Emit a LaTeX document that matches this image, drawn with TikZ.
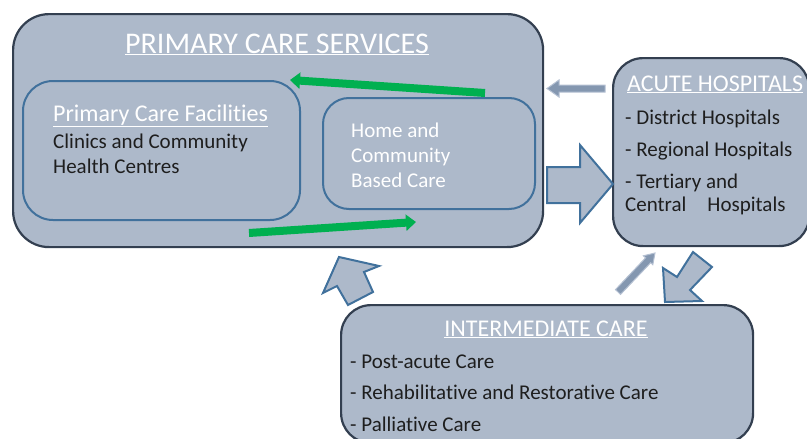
\documentclass[tikz,border=0pt]{standalone}
\usepackage{fontspec}
\setmainfont{Carlito}[Ligatures=NoCommon]
\usepackage{tikz}
\usetikzlibrary{arrows.meta,positioning}
\definecolor{boxfill}{HTML}{ADB9CA}
\definecolor{edgedark}{HTML}{333F50}
\definecolor{edgeblue}{HTML}{41719C}
\definecolor{palefill}{HTML}{8497B0}
\definecolor{paleedge}{HTML}{B4C0D2}
\definecolor{arrowgreen}{HTML}{00B050}
\definecolor{textdark}{HTML}{1E1E1E}

\begin{document}
\begin{tikzpicture}[x=1pt,y=-1pt,
    outerbox/.style={draw=edgedark, fill=boxfill, line width=2.2pt, rounded corners=36pt, anchor=north west},
    innerbox/.style={draw=edgeblue, fill=boxfill, line width=2pt, rounded corners=30pt, anchor=north west},
    hdr/.style={text=white, inner sep=0, anchor=base},
    body/.style={text=textdark, inner sep=0, anchor=base west, font=\fontsize{21}{25}\selectfont},
    flow/.style={draw=edgeblue, fill=boxfill, line width=2pt, line join=miter},
    thinflow/.style={draw=paleedge, fill=palefill, line width=1pt, line join=miter},
    greenarrow/.style={draw=arrowgreen, line width=8pt, -{Triangle[length=10pt,width=16pt]}}]
    \useasboundingbox (0,0) rectangle (807,439);
    \begin{scope}
        \clip (0,0) rectangle (807,439);
        \node[outerbox, minimum width=530, minimum height=233] (pcs) at (12,13) {};
        \node[outerbox, rounded corners=30pt, minimum width=196, minimum height=188] (acute) at (612,57) {};
        \node[outerbox, rounded corners=30pt, minimum width=412, minimum height=138] (inter) at (340,304) {};
    \end{scope}
    \node[innerbox, minimum width=277, minimum height=139] (pcf) at (22,80) {};
    \node[innerbox, rounded corners=26pt, minimum width=212, minimum height=111] (home) at (322,97) {};

    \node[hdr, font=\fontsize{30}{34}\selectfont] (pcstitle) at (277,53) {\underline{PRIMARY CARE SERVICES}};
    \node[body, text=white, font=\fontsize{24}{28}\selectfont] (pcftitle) at (53,121) {\underline{Primary Care Facilities}};
    \node[body] (clinics) at (53,148) {Clinics and Community};
    \node[body] (centres) at (53,173) {Health Centres};
    \node[body, text=white] (homeA) at (351,137) {Home and};
    \node[body, text=white] (homeB) at (351,162) {Community};
    \node[body, text=white] (homeC) at (351,187) {Based Care};

    \node[body, text=white, font=\fontsize{24}{28}\selectfont] (acutetitle) at (627,91) {\underline{ACUTE HOSPITALS}};
    \node[body] (district) at (625,124) {- District Hospitals};
    \node[body] (regional) at (625,156) {- Regional Hospitals};
    \node[body] (tertiary) at (625,188) {- Tertiary and};
    \node[body] (central) at (625,211) {Central\hspace{21pt}Hospitals};

    \node[hdr, font=\fontsize{24}{28}\selectfont] (intertitle) at (546,336) {\underline{INTERMEDIATE CARE}};
    \node[body] (postacute) at (350,368) {- Post-acute Care};
    \node[body] (rehab) at (350,399) {- Rehabilitative and Restorative Care};
    \node[body] (palliative) at (350,431) {- Palliative Care};

    \coordinate (gA) at (485,93);
    \coordinate (gB) at (290,80);
    \coordinate (gC) at (249,233);
    \coordinate (gD) at (416,222);
    \draw[greenarrow] (gA) -- (gB);
    \draw[greenarrow] (gC) -- (gD);

    \draw[thinflow] (605,85) -- (559,85) -- (559,80) -- (547,88.5) -- (559,97) -- (559,92) -- (605,92) -- cycle;
    \draw[flow] (547,167) -- (580,167) -- (580,145) -- (613,184) -- (580,223) -- (580,203) -- (547,203) -- cycle;
    \draw[flow] (339,257) -- (379,266) -- (364,272) -- (373,292) -- (348,305) -- (337,286) -- (323,293) -- cycle;
    \draw[thinflow] (620.5,294.4) -- (650.7,262.7) -- (652.8,264.7) -- (655,253) -- (643.4,255.8) -- (645.6,257.8) -- (615.5,289.6) -- cycle;
    \draw[flow] (693,252) -- (712,267) -- (690,290) -- (702,301) -- (665,302) -- (663,268) -- (677,277) -- cycle;
\end{tikzpicture}
\end{document}
